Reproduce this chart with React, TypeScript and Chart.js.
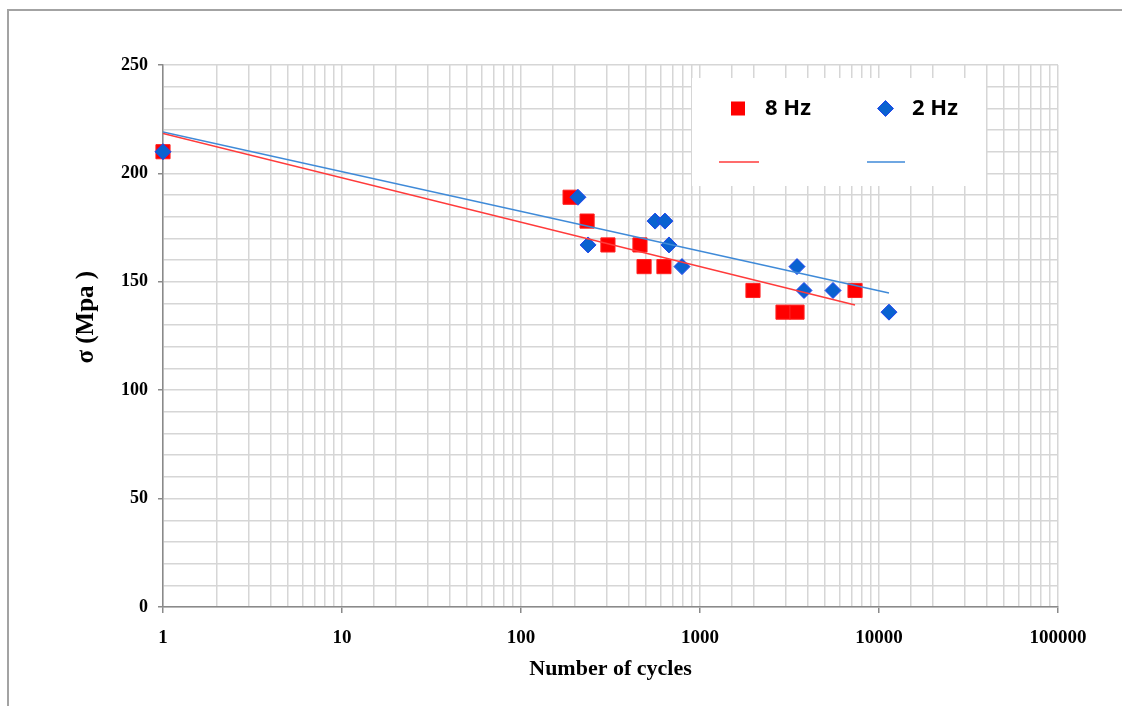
import React, { useEffect, useRef } from 'react';
import { Chart, registerables } from 'chart.js';

Chart.register(...registerables);

// ---- data ----
const seriesNames = ['8 Hz', '2 Hz'];
const hz8Cycles = [1, 188, 234, 306, 462, 487, 629, 1977, 2909, 3483, 7345];
const hz8Stress = [210, 189, 178, 167, 167, 157, 157, 146, 136, 136, 146];
const hz2Cycles = [1, 208, 237, 561, 637, 671, 793, 3483, 3811, 5534, 11370];
const hz2Stress = [210, 189, 167, 178, 178, 167, 157, 157, 146, 146, 136];
// logarithmic trend lines (straight on the log axis): end points
const hz8TrendCycles = [1, 7345];
const hz8TrendStress = [218.4, 139.3];
const hz2TrendCycles = [1, 11370];
const hz2TrendStress = [219.1, 144.8];
const yTickLabels = [0, 50, 100, 150, 200, 250];
const xTickLabels = [1, 10, 100, 1000, 10000, 100000];
const xTitle = 'Number of cycles';
const yTitle = 'σ (Mpa )';

const RED = '#ff0000';
const BLUE = '#0a62d0';
const RED_LINE = '#ff3b3b';
const BLUE_LINE = '#3f8ad8';
const GRID = '#d6d6d6';
const AXIS = '#8a8a8a';

const toPts = (xs: number[], ys: number[]) => xs.map((x, i) => ({ x, y: ys[i] }));

const legendPlugin = {
  id: 'boxLegend',
  afterDatasetsDraw(chart: any) {
    const ctx = chart.ctx;
    ctx.save();
    ctx.fillStyle = '#ffffff';
    ctx.fillRect(692, 78, 294, 108);
    // markers
    ctx.fillStyle = RED;
    ctx.fillRect(731, 101.5, 14, 14);
    ctx.beginPath();
    ctx.moveTo(885.5, 100.5);
    ctx.lineTo(893.5, 108.5);
    ctx.lineTo(885.5, 116.5);
    ctx.lineTo(877.5, 108.5);
    ctx.closePath();
    ctx.fillStyle = BLUE;
    ctx.fill();
    ctx.strokeStyle = '#2244ee';
    ctx.lineWidth = 1;
    ctx.stroke();
    // labels
    ctx.fillStyle = '#000000';
    ctx.font = 'bold 22px "Open Sans", sans-serif';
    ctx.textBaseline = 'middle';
    ctx.textAlign = 'left';
    ctx.fillText(seriesNames[0], 765, 109);
    ctx.fillText(seriesNames[1], 912, 109);
    // trend line samples
    ctx.lineWidth = 1.5;
    ctx.strokeStyle = RED_LINE;
    ctx.beginPath();
    ctx.moveTo(719, 162);
    ctx.lineTo(759, 162);
    ctx.stroke();
    ctx.strokeStyle = BLUE_LINE;
    ctx.beginPath();
    ctx.moveTo(867, 162);
    ctx.lineTo(905, 162);
    ctx.stroke();
    ctx.restore();
  },
};

export default function App() {
  const ref = useRef<HTMLCanvasElement | null>(null);

  useEffect(() => {
    if (!ref.current) return;
    const chart = new Chart(ref.current, {
      type: 'scatter',
      data: {
        datasets: [
          {
            label: seriesNames[0] + ' trend',
            data: toPts(hz8TrendCycles, hz8TrendStress),
            showLine: true,
            borderColor: RED_LINE,
            borderWidth: 1.5,
            pointRadius: 0,
            order: 0,
          },
          {
            label: seriesNames[1] + ' trend',
            data: toPts(hz2TrendCycles, hz2TrendStress),
            showLine: true,
            borderColor: BLUE_LINE,
            borderWidth: 1.5,
            pointRadius: 0,
            order: 0,
          },
          {
            label: seriesNames[1],
            data: toPts(hz2Cycles, hz2Stress),
            pointStyle: 'rectRot',
            pointRadius: 8,
            backgroundColor: BLUE,
            borderColor: '#2244ee',
            borderWidth: 1,
            clip: false,
            order: 1,
          },
          {
            label: seriesNames[0],
            data: toPts(hz8Cycles, hz8Stress),
            pointStyle: 'rect',
            pointRadius: 10,
            backgroundColor: RED,
            borderColor: '#ff2020',
            borderWidth: 1,
            clip: false,
            order: 2,
          },
        ],
      },
      options: {
        responsive: false,
        animation: false,
        events: [],
        layout: { padding: { left: 0, top: 65, right: 64, bottom: 0 } },
        plugins: {
          legend: { display: false },
          tooltip: { enabled: false },
        },
        scales: {
          x: {
            type: 'logarithmic',
            min: xTickLabels[0],
            max: xTickLabels[xTickLabels.length - 1],
            border: { color: AXIS, width: 1.5 },
            grid: {
              color: GRID,
              lineWidth: 1.5,
              tickLength: 6,
              tickColor: (c: any) => (xTickLabels.includes(c.tick?.value) ? AXIS : 'rgba(0,0,0,0)'),
            },
            ticks: {
              autoSkip: false,
              maxRotation: 0,
              padding: 14,
              color: '#000',
              font: { family: '"Liberation Serif", serif', size: 19, weight: 'bold' },
              callback: (v: any) => (xTickLabels.includes(Number(v)) ? String(v) : ''),
            },
            title: {
              display: true,
              text: xTitle,
              color: '#000',
              font: { family: '"Liberation Serif", serif', size: 22, weight: 'bold' },
              padding: { top: 0, bottom: 23 },
            },
            afterFit: (s: any) => {
              s.height = 99;
            },
          },
          y: {
            min: 0,
            max: yTickLabels[yTickLabels.length - 1],
            border: { color: AXIS, width: 1.5 },
            grid: {
              color: GRID,
              lineWidth: 1.5,
              tickLength: 5,
              tickColor: (c: any) => (yTickLabels.includes(c.tick?.value) ? AXIS : 'rgba(0,0,0,0)'),
            },
            ticks: {
              stepSize: 10,
              autoSkip: false,
              padding: 10,
              color: '#000',
              font: { family: '"Liberation Serif", serif', size: 18, weight: 'bold' },
              callback: (v: any) => (yTickLabels.includes(Number(v)) ? String(v) : ''),
            },
            title: {
              display: true,
              text: '\u00a0\u00a0\u00a0\u00a0\u00a0\u00a0' + yTitle,
              color: '#000',
              font: { family: '"Liberation Serif", serif', size: 25, weight: 'bold' },
              padding: { top: 72, bottom: 0 },
            },
            afterFit: (s: any) => {
              s.width = 163;
            },
          },
        },
      },
      plugins: [legendPlugin],
    } as any);
    return () => chart.destroy();
  }, []);

  return (
    <div
      style={{
        position: 'fixed',
        left: 0,
        top: 0,
        width: 1122,
        height: 706,
        overflow: 'hidden',
        background: '#fff',
      }}
    >
      <canvas ref={ref} width={1122} height={706} style={{ display: 'block' }} />
      <div
        style={{
          position: 'absolute',
          left: 7,
          top: 9,
          width: 1200,
          height: 800,
          borderLeft: '2px solid #a3a3a3',
          borderTop: '2px solid #a3a3a3',
          pointerEvents: 'none',
        }}
      />
    </div>
  );
}
